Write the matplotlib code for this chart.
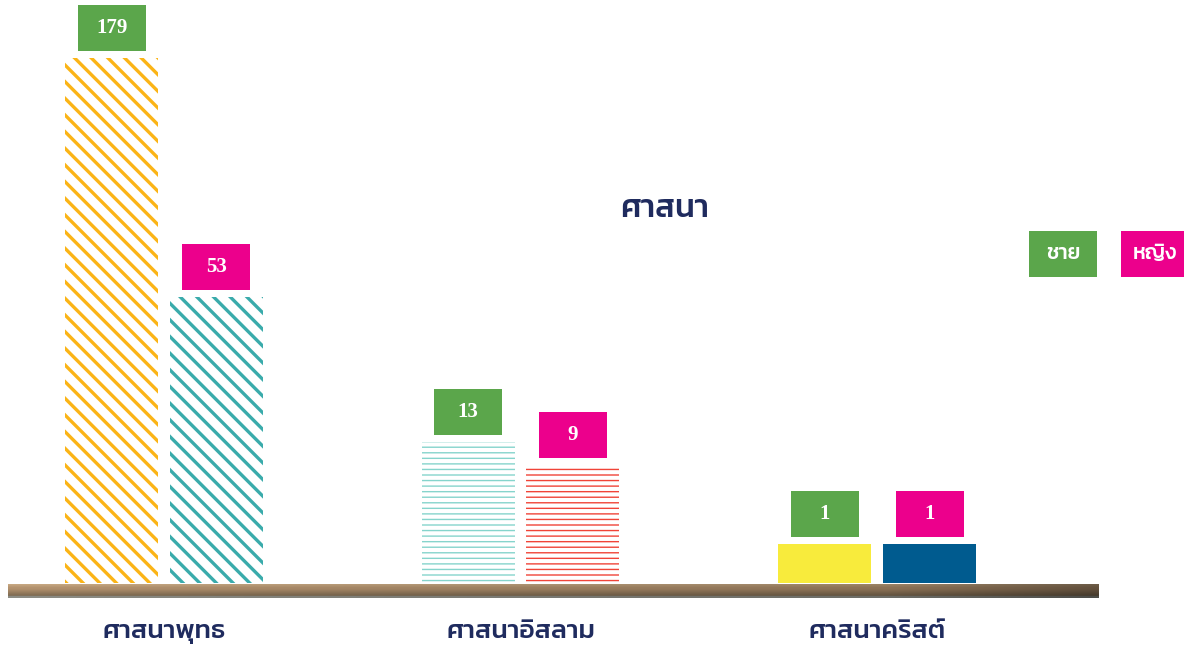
import numpy as np
import matplotlib
matplotlib.use('Agg')
import matplotlib.pyplot as plt
from matplotlib.offsetbox import AnnotationBbox, DrawingArea
from matplotlib.patches import Rectangle
from matplotlib.text import Text

# data
religions = ['ศาสนาพุทธ', 'ศาสนาอิสลาม', 'ศาสนาคริสต์']
male = [179, 13, 1]
female = [53, 9, 1]
series_labels = ['ชาย', 'หญิง']
title = 'ศาสนา'

# look
thai = ['Kanit', 'DejaVu Sans']
navy = '#1f2b5e'
green = '#5ba64b'
pink = '#ec008c'
male_colors = ['#fbb416', '#86d4cc', '#f8eb3c']
female_colors = ['#3aabab', '#f04438', '#005b8f']
hatches = ['\\\\', '---', None]
hatch_lw = [2.4, 1.0, 1.0]

W, H = 1184, 652
fig = plt.figure(figsize=(W / 100, H / 100), dpi=100)
ax = fig.add_axes([8 / W, 69 / H, 1091 / W, 555 / H])
ax.set_yscale('function', functions=(lambda v: np.sqrt(np.clip(v, 0, None)), np.square))
ax.set_ylim(0, 200)
x = np.arange(len(religions))
ax.set_xlim(-0.4376, -0.4376 + 3.060)
bw = 0.261
off = 0.147

for i in range(len(religions)):
    for xpos, val, col in [(x[i] - off, male[i], male_colors[i]), (x[i] + off, female[i], female_colors[i])]:
        with plt.rc_context({'hatch.linewidth': hatch_lw[i]}):
            if hatches[i] is None:
                b = ax.bar(xpos, val, bw, color=col, linewidth=0)
            else:
                b = ax.bar(xpos, val, bw, facecolor='white', edgecolor=col,
                           hatch=hatches[i], linewidth=0)
        if hasattr(b[0], 'set_hatch_linewidth'):
            b[0].set_hatch_linewidth(hatch_lw[i])

# value boxes
def value_box(xpos, val, color):
    w, h = 68 * 0.72, 46 * 0.72
    da = DrawingArea(w, h, 0, 0)
    da.add_artist(Rectangle((0, 0), w, h, facecolor=color, edgecolor='none'))
    da.add_artist(Text(w / 2, h / 2, str(val), ha='center', va='center', color='white',
                       fontsize=15, fontweight='bold', family='Liberation Serif'))
    ab = AnnotationBbox(da, (xpos, val), xybox=(0, 5), xycoords='data',
                        boxcoords='offset points', frameon=False, box_alignment=(0.5, 0), pad=0)
    ax.add_artist(ab)

for i in range(len(religions)):
    value_box(x[i] - off, male[i], green)
    value_box(x[i] + off, female[i], pink)

ax.set_xticks(x)
ax.set_xticklabels(religions, family=thai, fontsize=19, fontweight='medium', color=navy)
ax.tick_params(axis='x', length=0, pad=27)
ax.set_yticks([])
for s in ax.spines.values():
    s.set_visible(False)
ax.patch.set_alpha(0)

# wooden floor
fax = fig.add_axes([8 / W, (H - 598) / H, 1091 / W, 14 / H])
top = np.array([0.80, 0.68, 0.53])
mid = np.array([0.70, 0.57, 0.43])
bot = np.array([0.50, 0.42, 0.32])
rows = np.vstack([np.linspace(top, mid, 5), np.linspace(mid, bot, 7), [[0.55, 0.55, 0.52]] * 2])
shade = np.concatenate([np.linspace(1.0, 0.78, 80), np.linspace(0.78, 0.55, 20)])
img = rows[:, None, :] * shade[None, :, None]
fax.imshow(np.clip(img, 0, 1), aspect='auto', interpolation='bilinear')
fax.axis('off')

# title and legend
fig.text(665 / W, 1 - 210 / H, title, ha='center', va='center', family=thai,
         fontsize=23, fontweight='medium', color=navy)
for cx, lab, col in [(1063, series_labels[0], green), (1155, series_labels[1], pink)]:
    fig.patches.append(Rectangle(((cx - 34) / W, 1 - 277 / H), 68 / W, 46 / H,
                                 transform=fig.transFigure, facecolor=col, edgecolor='none'))
    fig.text(cx / W, 1 - 254 / H, lab, ha='center', va='center', family=thai,
             fontsize=15, fontweight='medium', color='white')

fig.savefig('out.png', dpi=100)
